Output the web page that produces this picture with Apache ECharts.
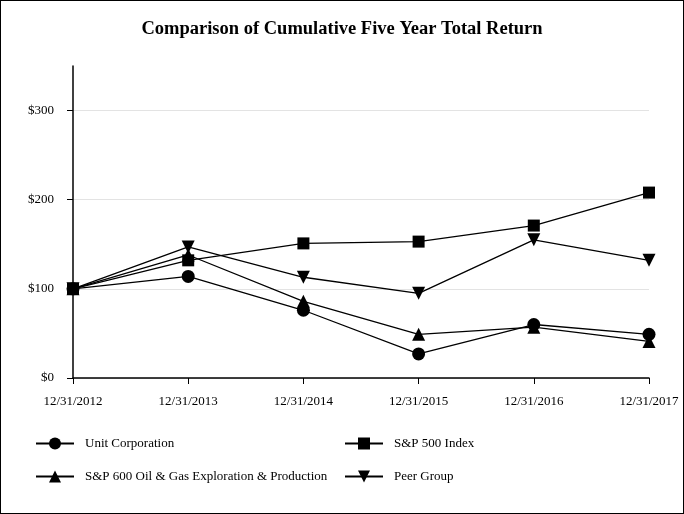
<!DOCTYPE html>
<html>
<head>
<meta charset="utf-8">
<script src="https://cdn.jsdelivr.net/npm/echarts@6/dist/echarts.min.js"></script>
<style>
html,body{margin:0;padding:0;background:#fff;}
#c{width:684px;height:514px;box-sizing:border-box;border:1.5px solid #000;}
</style>
</head>
<body>
<div id="c"></div>
<script>
const categories = ['12/31/2012','12/31/2013','12/31/2014','12/31/2015','12/31/2016','12/31/2017'];
const unitCorp = [100, 114, 76, 27, 60, 49];
const sp500 = [100, 132, 151, 153, 171, 208];
const sp600OilGas = [100, 138, 86, 49, 57, 41];
const peerGroup = [100, 147, 113, 95, 155, 132];
const yTicks = [0, 100, 200, 300];

const FONT = "'Liberation Serif','Times New Roman',serif";
const chart = echarts.init(document.getElementById('c'), null, {renderer: 'canvas'});
function mk(name, data, symbol, size, rot) {
  return {
    name, type: 'line', data, symbol, symbolSize: size, symbolRotate: rot || 0,
    lineStyle: {color: '#000', width: 1.3},
    itemStyle: {color: '#000'},
    showAllSymbol: true, animation: false
  };
}
chart.setOption({
  animation: false,
  title: {
    text: 'Comparison of Cumulative Five Year Total Return',
    left: 'center', top: 14,
    textStyle: {fontFamily: FONT, fontSize: 18.5, fontWeight: 'bold', color: '#000'}
  },
  grid: {left: 72, right: 34, top: 65, bottom: 135, containLabel: false},
  xAxis: {
    type: 'category', data: categories, boundaryGap: false,
    axisLine: {lineStyle: {color: '#000', width: 1.5}},
    axisTick: {show: true, length: 6, lineStyle: {color: '#000'}},
    axisLabel: {fontFamily: FONT, fontSize: 13, color: '#000', margin: 17},
    splitLine: {show: false}
  },
  yAxis: {
    type: 'value', min: 0, max: 350, interval: 100,
    axisLine: {show: true, lineStyle: {color: '#000', width: 1.5}},
    axisTick: {show: true, length: 6, customValues: yTicks, lineStyle: {color: '#000'}},
    axisLabel: {fontFamily: FONT, fontSize: 13, color: '#000', margin: 19,
      customValues: yTicks, formatter: v => '$' + v},
    splitLine: {show: true, lineStyle: {color: ['#e3e3e3','#e3e3e3','#e3e3e3','#e3e3e3','rgba(0,0,0,0)'], width: 1}}
  },
  legend: [
    {
      orient: 'vertical', left: 34, top: 436, padding: 0, itemGap: 20, itemWidth: 38, itemHeight: 15,
      data: ['Unit Corporation', 'S&P 600 Oil & Gas Exploration & Production'],
      textStyle: {fontFamily: FONT, fontSize: 13, color: '#000', padding: [0,0,0,6]},
      selectedMode: false
    },
    {
      orient: 'vertical', left: 343, top: 436, padding: 0, itemGap: 20, itemWidth: 38, itemHeight: 15,
      data: ['S&P 500 Index', 'Peer Group'],
      textStyle: {fontFamily: FONT, fontSize: 13, color: '#000', padding: [0,0,0,6]},
      selectedMode: false
    }
  ],
  series: [
    mk('Unit Corporation', unitCorp, 'circle', 13),
    mk('S&P 500 Index', sp500, 'rect', 12),
    mk('S&P 600 Oil & Gas Exploration & Production', sp600OilGas, 'triangle', 13),
    mk('Peer Group', peerGroup, 'triangle', 13, 180)
  ]
});
</script>
</body>
</html>
